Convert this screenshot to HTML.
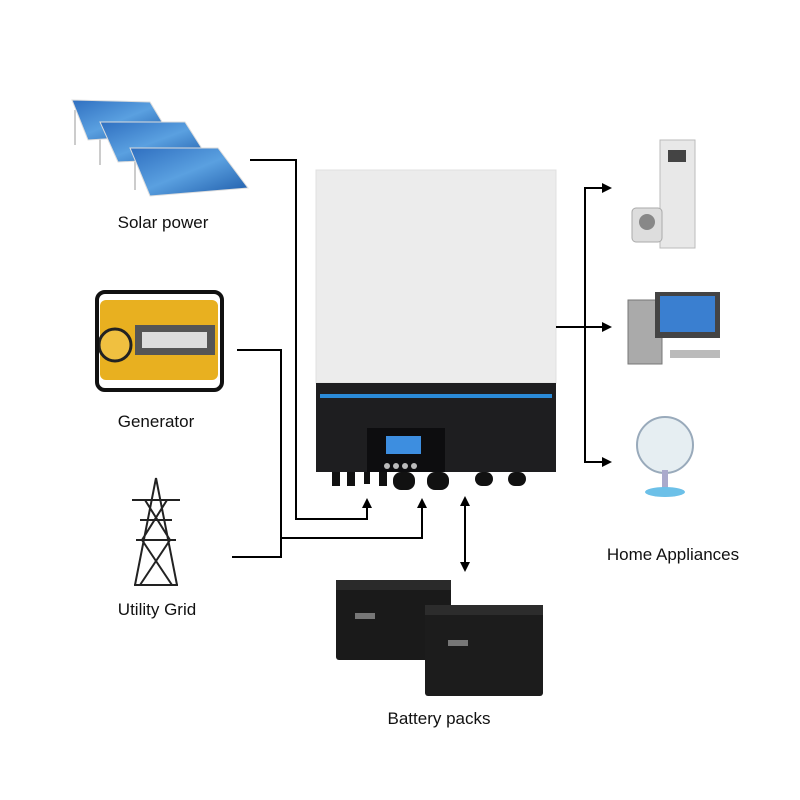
<!DOCTYPE html>
<html><head><meta charset="utf-8"><style>
body{margin:0;background:#fff;width:800px;height:800px;overflow:hidden;font-family:"Liberation Sans",sans-serif}
.t{position:absolute;font-size:17px;color:#111;white-space:nowrap;transform:translateX(-50%)}
</style></head><body>
<svg width="800" height="800" style="position:absolute;left:0;top:0">
<defs>
<marker id="a" markerWidth="10" markerHeight="10" refX="6" refY="5" orient="auto" markerUnits="userSpaceOnUse"><path d="M0,0 L10,5 L0,10 z" fill="#000"/></marker>
<marker id="b" markerWidth="10" markerHeight="10" refX="4" refY="5" orient="auto-start-reverse" markerUnits="userSpaceOnUse"><path d="M0,0 L10,5 L0,10 z" fill="#000"/></marker>
<linearGradient id="sp" x1="0" y1="0" x2="1" y2="1"><stop offset="0" stop-color="#2f6fc0"/><stop offset="0.5" stop-color="#5aa0e0"/><stop offset="1" stop-color="#1d5aa8"/></linearGradient>
</defs>
<g stroke="#ccc" stroke-width="2">
<line x1="75" y1="110" x2="75" y2="145"/><line x1="100" y1="125" x2="100" y2="165"/><line x1="135" y1="140" x2="135" y2="190"/>
</g>
<polygon points="72,100 150,102 170,135 88,140" fill="url(#sp)" stroke="#ddd"/>
<polygon points="100,122 185,122 208,158 118,162" fill="url(#sp)" stroke="#ddd"/>
<polygon points="130,148 218,148 248,188 150,196" fill="url(#sp)" stroke="#ddd"/>
<!-- generator -->
<rect x="100" y="300" width="118" height="80" rx="6" fill="#e8b020"/>
<rect x="135" y="325" width="80" height="30" fill="#555"/>
<rect x="142" y="332" width="65" height="16" fill="#ddd"/>
<circle cx="115" cy="345" r="16" fill="#f0c040" stroke="#222" stroke-width="3"/>
<rect x="97" y="292" width="125" height="98" rx="8" fill="none" stroke="#111" stroke-width="4"/>
<g stroke="#222" stroke-width="2" fill="none">
<path d="M156,478 L135,585 M156,478 L177,585 M140,520 L172,520 M136,540 L176,540 M132,500 L180,500 M145,500 L170,540 L140,585 M167,500 L142,540 L172,585 M134,585 L178,585"/>
</g>
<rect x="316" y="170" width="240" height="213" fill="#ececec" stroke="#e0e0e0"/>
<rect x="316" y="383" width="240" height="89" fill="#1e1e20"/>
<rect x="320" y="394" width="232" height="4" fill="#2a8ad8"/>
<rect x="367" y="428" width="78" height="44" fill="#0d0d0f"/>
<rect x="386" y="436" width="35" height="18" fill="#3d8ee0"/>
<g fill="#bbb"><circle cx="387" cy="466" r="3"/><circle cx="396" cy="466" r="3"/><circle cx="405" cy="466" r="3"/><circle cx="414" cy="466" r="3"/></g>
<g fill="#111"><rect x="332" y="472" width="8" height="14"/><rect x="347" y="472" width="8" height="14"/><rect x="364" y="472" width="6" height="12"/><rect x="379" y="472" width="8" height="14"/>
<rect x="393" y="472" width="22" height="18" rx="8"/><rect x="427" y="472" width="22" height="18" rx="8"/><rect x="475" y="472" width="18" height="14" rx="7"/><rect x="508" y="472" width="18" height="14" rx="7"/></g>
<g stroke="#000" stroke-width="2" fill="none">
<polyline points="250,160 296,160 296,519 367,519 367,502" marker-end="url(#a)"/>
<polyline points="237,350 281,350 281,557 232,557"/>
<polyline points="281,538 422,538 422,502" marker-end="url(#a)"/>
<line x1="465" y1="502" x2="465" y2="568" marker-start="url(#b)" marker-end="url(#a)"/>
<polyline points="556,327 585,327"/>
<line x1="585" y1="187" x2="585" y2="463"/>
<line x1="585" y1="188" x2="608" y2="188" marker-end="url(#a)"/>
<line x1="585" y1="327" x2="608" y2="327" marker-end="url(#a)"/>
<line x1="585" y1="462" x2="608" y2="462" marker-end="url(#a)"/>
</g>
<rect x="660" y="140" width="35" height="108" fill="#e8e8e8" stroke="#bbb"/>
<rect x="668" y="150" width="18" height="12" fill="#444"/>
<rect x="632" y="208" width="30" height="34" rx="4" fill="#ddd" stroke="#aaa"/>
<circle cx="647" cy="222" r="8" fill="#888"/>
<rect x="628" y="300" width="34" height="64" fill="#aaa" stroke="#777"/>
<rect x="655" y="292" width="65" height="46" fill="#444"/>
<rect x="660" y="296" width="55" height="36" fill="#3a7fd0"/>
<rect x="670" y="350" width="50" height="8" fill="#bbb"/>
<circle cx="665" cy="445" r="28" fill="#e6eef2" stroke="#9ab" stroke-width="2"/>
<rect x="662" y="470" width="6" height="20" fill="#aac"/>
<ellipse cx="665" cy="492" rx="20" ry="5" fill="#6cc0e8"/>
<rect x="336" y="585" width="115" height="75" rx="3" fill="#1a1a1a"/>
<rect x="336" y="580" width="115" height="10" fill="#2a2a2a"/>
<rect x="425" y="612" width="118" height="84" rx="3" fill="#1c1c1c"/>
<rect x="425" y="605" width="118" height="10" fill="#2c2c2c"/>
<rect x="448" y="640" width="20" height="6" fill="#777"/>
<rect x="355" y="613" width="20" height="6" fill="#777"/>
</svg>
<div class="t" style="left:163px;top:213px">Solar power</div>
<div class="t" style="left:156px;top:412px">Generator</div>
<div class="t" style="left:157px;top:600px">Utility Grid</div>
<div class="t" style="left:673px;top:545px">Home Appliances</div>
<div class="t" style="left:439px;top:709px">Battery packs</div>
</body></html>
